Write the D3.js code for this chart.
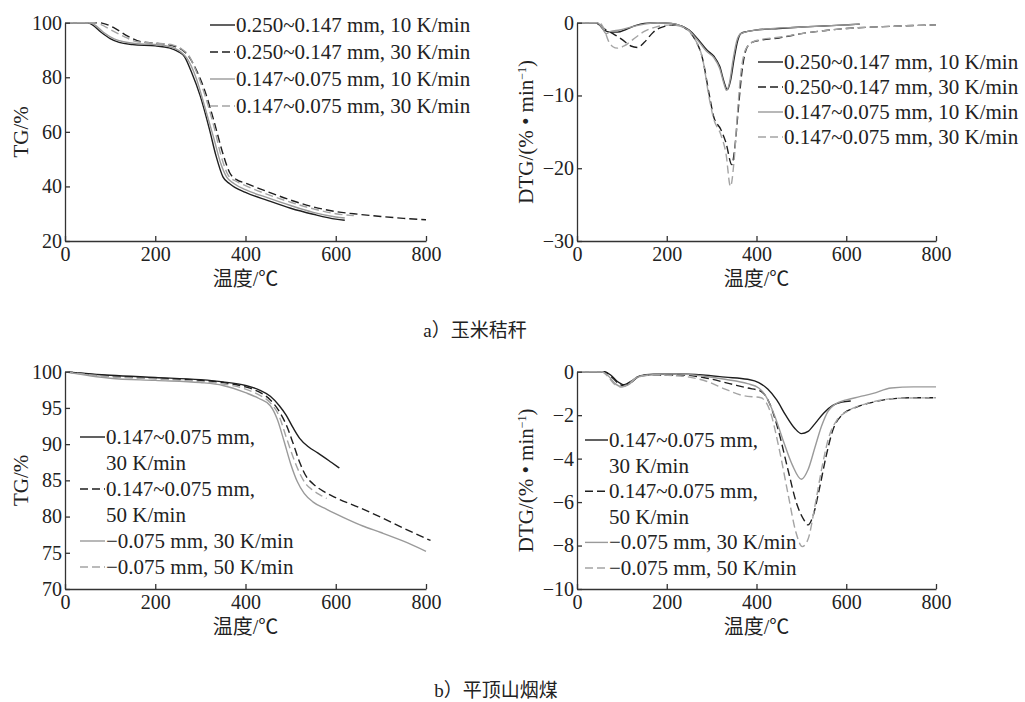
<!DOCTYPE html>
<html>
<head>
<meta charset="utf-8">
<script src="https://cdn.jsdelivr.net/npm/d3@7"></script>
<style>
  body { margin: 0; background: #fff; }
  svg text { font-family: "Liberation Serif", "Noto Sans CJK SC", serif; fill: #222; }
  .axis path, .axis line { stroke: #333; stroke-width: 1.3; }
  .axis text { font-size: 20px; }
</style>
</head>
<body>
<svg id="chart" width="1025" height="702"></svg>
<script>
// a) corn stalk - TG
const aTg1 = [[0,100],[50,100],[60,99.3],[80,96.5],[100,94.2],[120,92.8],[150,92],[200,91.5],[230,90.8],[250,89.5],[265,87.5],[280,82],[300,73],[320,61],[335,51],[350,43.5],[365,41],[400,37.8],[450,34.8],[500,32],[550,29.8],[600,28],[620,27.6]];
const aTg2 = [[0,100],[75,100],[90,99.5],[110,98],[140,95],[170,93],[200,92.5],[240,91.5],[260,90],[275,87.5],[290,83],[310,75],[330,64],[350,52],[365,45],[380,42.5],[400,41.2],[450,38],[500,35],[550,32.5],[600,30.8],[650,29.8],[700,29],[750,28.3],[800,27.8]];
const aTg3 = [[0,100],[55,100],[65,99.3],[85,96.5],[110,94],[130,93],[160,92.3],[200,92],[230,91.3],[255,89.5],[270,87],[290,80],[310,69],[330,57.5],[345,48.5],[358,43.5],[375,41],[400,38.8],[450,35.8],[500,33],[550,30.5],[600,28.8],[620,28.4]];
const aTg4 = [[0,100],[65,100],[80,99.3],[100,97.5],[130,95],[160,93],[200,92.5],[240,91.8],[260,90.2],[275,87.8],[290,82.5],[310,73.5],[330,62],[348,50],[362,44],[380,41.8],[400,40.3],[450,37],[500,34.2],[550,31.8],[600,30],[640,29.3]];

// a) corn stalk - DTG
const aDtg1 = [[0,0],[40,0],[50,-0.3],[60,-1.0],[75,-1.3],[90,-1.3],[110,-0.9],[130,-0.4],[150,-0.1],[180,0],[210,-0.1],[230,-0.4],[250,-1.0],[270,-2.3],[290,-3.8],[305,-4.6],[318,-6],[328,-8.2],[335,-9.2],[342,-8],[350,-5],[358,-2.5],[365,-1.5],[380,-1.2],[400,-1.0],[450,-0.8],[500,-0.6],[550,-0.45],[600,-0.3],[630,-0.2]];
const aDtg2 = [[0,0],[45,0],[60,-0.8],[80,-1.5],[100,-2.3],[120,-3.2],[135,-3.4],[150,-2.7],[170,-1.3],[190,-0.6],[220,-0.3],[240,-0.7],[260,-2],[280,-5],[295,-10],[305,-13],[320,-14.6],[332,-16.5],[345,-19.5],[352,-17],[360,-11.5],[368,-6.5],[378,-3.5],[390,-2.7],[410,-2.4],[450,-2.1],[500,-1.5],[550,-1.1],[600,-0.8],[700,-0.5],[800,-0.3]];
const aDtg3 = [[0,0],[45,0],[55,-0.6],[65,-1.5],[75,-1.2],[95,-1.0],[120,-0.6],[150,-0.2],[180,0],[210,-0.1],[230,-0.4],[250,-1.1],[270,-2.5],[290,-4],[305,-4.8],[318,-6.3],[328,-8.5],[333,-9.3],[340,-8.2],[348,-5],[356,-2.5],[365,-1.5],[400,-1.0],[500,-0.6],[600,-0.3],[630,-0.2]];
const aDtg4 = [[0,0],[50,0],[60,-0.8],[70,-2.5],[80,-3.3],[90,-3.5],[105,-3.2],[125,-2.3],[150,-1.2],[175,-0.6],[210,-0.3],[240,-0.7],[260,-2],[280,-5],[295,-10.5],[305,-13.3],[320,-15.3],[332,-18],[342,-22.5],[350,-19],[358,-12],[366,-6.5],[375,-3.8],[390,-2.7],[410,-2.3],[450,-2.0],[500,-1.5],[550,-1.1],[600,-0.8],[700,-0.5],[800,-0.3]];

// b) Pingdingshan bituminous coal - TG
const bTg1 = [[0,100],[100,99.5],[200,99.2],[300,98.9],[350,98.6],[400,98.1],[430,97.5],[455,96.6],[475,95.3],[490,94],[505,92.3],[520,90.8],[540,89.6],[560,88.8],[590,87.5],[608,86.7]];
const bTg2 = [[0,100],[100,99.4],[200,99.1],[300,98.8],[350,98.5],[400,97.9],[430,97.2],[455,96.1],[475,94.5],[490,92.7],[505,90.2],[520,87.5],[535,85.5],[550,84.5],[575,83.4],[600,82.6],[650,81.3],[700,79.9],[750,78.4],[810,76.7]];
const bTg3 = [[0,100],[100,99.1],[200,98.8],[300,98.5],[350,98.1],[400,97.1],[430,96.3],[455,95.3],[470,93.5],[485,90.5],[500,87.3],[515,84.8],[530,83.2],[550,82],[580,81],[620,79.8],[660,78.7],[700,77.8],[750,76.6],[800,75.2]];
const bTg4 = [[0,100],[100,99.3],[200,99],[300,98.6],[350,98.3],[400,97.6],[430,96.8],[455,95.7],[475,93.8],[490,91],[505,88.3],[520,86],[535,84.4],[550,83.6],[565,83],[580,82.5]];

// b) Pingdingshan bituminous coal - DTG
const bDtg1 = [[0,0],[60,0],[75,-0.15],[90,-0.45],[105,-0.6],[120,-0.45],[140,-0.2],[170,-0.12],[220,-0.1],[280,-0.15],[330,-0.25],[380,-0.35],[405,-0.5],[425,-0.8],[445,-1.3],[465,-2],[485,-2.6],[500,-2.85],[515,-2.75],[530,-2.4],[550,-1.9],[570,-1.55],[590,-1.4],[610,-1.35]];
const bDtg2 = [[0,0],[60,0],[75,-0.2],[90,-0.5],[105,-0.65],[120,-0.5],[140,-0.2],[170,-0.15],[230,-0.15],[290,-0.3],[340,-0.55],[380,-0.75],[410,-0.9],[430,-1.5],[450,-2.8],[470,-4.5],[490,-6.1],[505,-6.8],[515,-7.05],[525,-6.7],[540,-5.4],[555,-3.9],[570,-2.7],[590,-2.0],[620,-1.65],[660,-1.4],[700,-1.25],[750,-1.2],[800,-1.2]];
const bDtg3 = [[0,0],[55,0],[70,-0.2],[85,-0.55],[100,-0.7],[115,-0.6],[135,-0.25],[160,-0.15],[220,-0.1],[280,-0.2],[330,-0.35],[380,-0.55],[405,-0.75],[420,-1.1],[440,-2],[460,-3.2],[480,-4.3],[500,-4.95],[515,-4.5],[530,-3.5],[545,-2.5],[560,-1.8],[575,-1.5],[600,-1.3],[630,-1.15],[660,-1.0],[700,-0.75],[750,-0.7],[800,-0.7]];
const bDtg4 = [[0,0],[55,0],[70,-0.25],[85,-0.6],[100,-0.7],[115,-0.55],[135,-0.25],[170,-0.15],[230,-0.2],[290,-0.45],[330,-0.8],[370,-1.1],[410,-1.2],[430,-1.8],[450,-3.5],[470,-5.6],[488,-7.4],[502,-8.05],[515,-7.7],[530,-6.2],[545,-4.5],[560,-3.1],[580,-2.2],[600,-1.85],[640,-1.5],[680,-1.3],[720,-1.22],[800,-1.2]];

const tempTicks = [0, 200, 400, 600, 800];
const aTgTicks = [20, 40, 60, 80, 100];
const aDtgTicks = [-30, -20, -10, 0];
const bTgTicks = [70, 75, 80, 85, 90, 95, 100];
const bDtgTicks = [-10, -8, -6, -4, -2, 0];

const aLegend = ["0.250~0.147 mm, 10 K/min", "0.250~0.147 mm, 30 K/min", "0.147~0.075 mm, 10 K/min", "0.147~0.075 mm, 30 K/min"];
const bLegend = [["0.147~0.075 mm,", "30 K/min"], ["0.147~0.075 mm,", "50 K/min"], ["\u22120.075 mm, 30 K/min"], ["\u22120.075 mm, 50 K/min"]];

const styles = [
  { color: "#1e1e1e", dash: null },
  { color: "#1e1e1e", dash: "8,4" },
  { color: "#9a9a9a", dash: null },
  { color: "#a4a4a4", dash: "8,4" }
];

const svg = d3.select("#chart");
const fmt = d => d < 0 ? "\u2212" + Math.abs(d) : String(d);

function drawPanel(p) {
  const x = d3.scaleLinear().domain([0, 800]).range([p.x0, p.x1]);
  const y = d3.scaleLinear().domain(p.yDomain).range([p.y1, p.y0]);

  const line = d3.line()
    .x(d => x(d[0]))
    .y(d => y(d[1]))
    .curve(d3.curveMonotoneX);

  p.series.forEach((s, i) => {
    svg.append("path")
      .datum(s)
      .attr("d", line)
      .attr("fill", "none")
      .attr("stroke", styles[i].color)
      .attr("stroke-width", 1.4)
      .attr("stroke-dasharray", styles[i].dash);
  });

  svg.append("g")
    .attr("class", "axis")
    .attr("transform", `translate(0,${p.y1})`)
    .call(d3.axisBottom(x).tickValues(tempTicks).tickSizeInner(-5).tickSizeOuter(0).tickPadding(6));

  svg.append("g")
    .attr("class", "axis")
    .attr("transform", `translate(${p.x0},0)`)
    .call(d3.axisLeft(y).tickValues(p.yTicks).tickFormat(fmt).tickSizeInner(-5).tickSizeOuter(0).tickPadding(3));

  svg.selectAll(".axis .domain").attr("fill", "none");

  svg.append("text")
    .attr("x", (p.x0 + p.x1) / 2)
    .attr("y", p.y1 + 45)
    .attr("text-anchor", "middle")
    .style("font-size", "20px")
    .text("温度/℃");

  const yl = svg.append("text")
    .attr("transform", `translate(${p.ylx},${(p.y0 + p.y1) / 2}) rotate(-90)`)
    .attr("text-anchor", "middle")
    .style("font-size", "21px");
  if (p.dtg) {
    yl.append("tspan").text("DTG/(% • min");
    yl.append("tspan").attr("baseline-shift", "super").style("font-size", "12px").text("\u22121");
    yl.append("tspan").text(")");
  } else {
    yl.text("TG/%");
  }

  // legend
  let row = 0;
  p.legend.forEach((entry, i) => {
    const lines = Array.isArray(entry) ? entry : [entry];
    lines.forEach((t, j) => {
      const cy = p.legY + row * p.legStep;
      if (j === 0) {
        svg.append("line")
          .attr("x1", p.legX).attr("x2", p.legX + p.legW)
          .attr("y1", cy).attr("y2", cy)
          .attr("stroke", styles[i].color)
          .attr("stroke-width", 1.4)
          .attr("stroke-dasharray", styles[i].dash);
      }
      svg.append("text")
        .attr("x", p.legX + p.legW + 1)
        .attr("y", cy + 7)
        .style("font-size", "21px")
        .text(t);
      row++;
    });
  });
}

drawPanel({ x0: 65, x1: 426, y0: 22.7, y1: 241, yDomain: [20, 100], yTicks: aTgTicks,
  series: [aTg1, aTg2, aTg3, aTg4], ylx: 28, dtg: false,
  legend: aLegend, legX: 210, legW: 25, legY: 25, legStep: 27 });

drawPanel({ x0: 577, x1: 936, y0: 22.7, y1: 241, yDomain: [-30, 0], yTicks: aDtgTicks,
  series: [aDtg1, aDtg2, aDtg3, aDtg4], ylx: 533, dtg: true,
  legend: aLegend, legX: 758, legW: 25, legY: 62, legStep: 25 });

drawPanel({ x0: 65, x1: 426, y0: 371.7, y1: 589, yDomain: [70, 100], yTicks: bTgTicks,
  series: [bTg1, bTg2, bTg3, bTg4], ylx: 28, dtg: false,
  legend: bLegend, legX: 80, legW: 25, legY: 437, legStep: 26 });

drawPanel({ x0: 577, x1: 936, y0: 371.7, y1: 589, yDomain: [-10, 0], yTicks: bDtgTicks,
  series: [bDtg1, bDtg2, bDtg3, bDtg4], ylx: 533, dtg: true,
  legend: bLegend, legX: 585, legW: 23, legY: 440, legStep: 25.6 });

svg.append("text")
  .attr("x", 475).attr("y", 337)
  .attr("text-anchor", "middle")
  .style("font-size", "19px")
  .text("a）玉米秸秆");

svg.append("text")
  .attr("x", 496).attr("y", 697)
  .attr("text-anchor", "middle")
  .style("font-size", "19px")
  .text("b）平顶山烟煤");
</script>
</body>
</html>
